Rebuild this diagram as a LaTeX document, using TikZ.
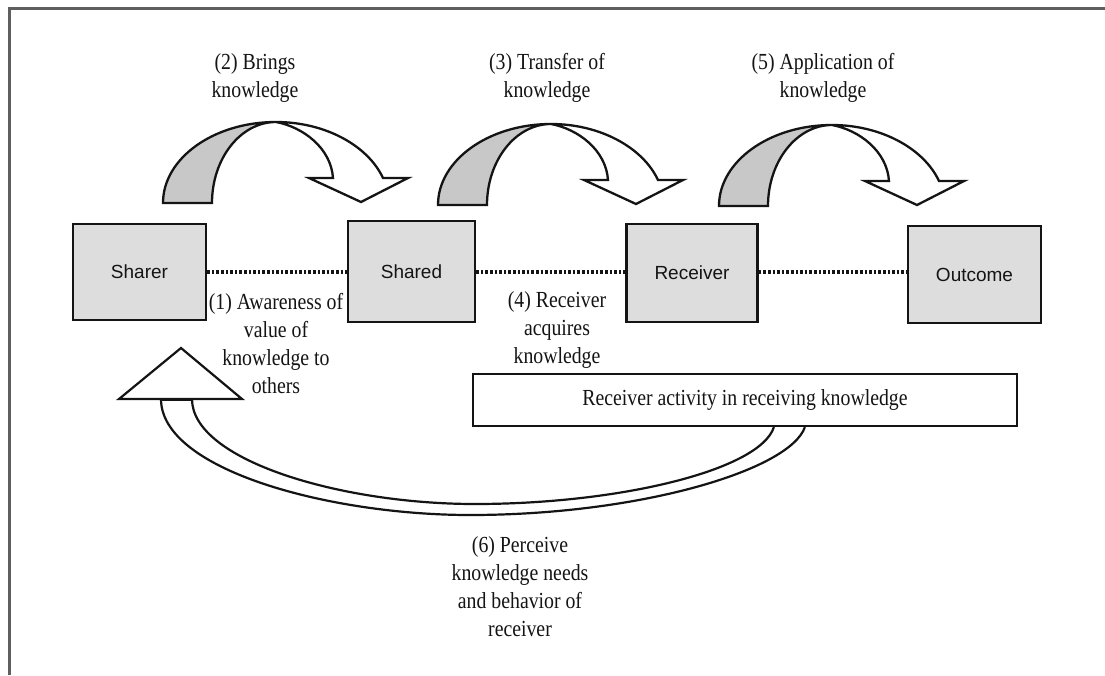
\documentclass[tikz,border=0pt]{standalone}
\usepackage{fontspec}
\usetikzlibrary{calc}
\newfontfamily\labelfont{Liberation Serif}[FakeStretch=0.86]
\newfontfamily\boxfont{Liberation Sans}
\definecolor{boxgray}{RGB}{221,221,221}
\definecolor{arrowgray}{RGB}{200,200,200}
\definecolor{framegray}{RGB}{95,95,95}
\definecolor{ink}{RGB}{20,20,20}
\tikzset{
  stage/.style={draw=ink, line width=2.4pt, fill=boxgray, inner sep=0pt,
    font=\boxfont\fontsize{19}{22}\selectfont, text=ink},
  lbl/.style={align=center, inner sep=0pt,
    font=\labelfont\fontsize{23}{28}\selectfont, text=ink},
  dotline/.style={draw=ink, line width=4pt, dash pattern=on 2.6pt off 2pt},
  band/.style={draw=ink, line width=2.2pt},
  % curved ribbon arrow: grey back part rising, white front part falling onto the head
  bendarrow/.pic={
    \fill[white] (0,0) .. controls (0,-44.7) and (50.6,-81) .. (113,-81)
      .. controls (161.5,-81) and (204.5,-58) .. (220,-25)
      -- (245,-25) -- (198,-1) -- (146,-25) -- (170,-25)
      .. controls (168,-55) and (140,-76) .. (113,-81)
      .. controls (77.7,-81) and (49,-44.7) .. (49,0) -- cycle;
    \fill[arrowgray] (0,0) .. controls (0,-44.7) and (50.6,-81) .. (113,-81)
      .. controls (77.7,-81) and (49,-44.7) .. (49,0) -- cycle;
    \draw[ink, line width=2.3pt, line join=miter] (0,0) .. controls (0,-44.7) and (50.6,-81) .. (113,-81)
      .. controls (161.5,-81) and (204.5,-58) .. (220,-25)
      -- (245,-25) -- (198,-1) -- (146,-25) -- (170,-25)
      .. controls (168,-55) and (140,-76) .. (113,-81)
      .. controls (77.7,-81) and (49,-44.7) .. (49,0) -- cycle;
  }
}
\begin{document}
\begin{tikzpicture}[x=1pt, y=-1pt]
\useasboundingbox (0,0) rectangle (1105,675);
\fill[white] (0,0) rectangle (1105,675);
% page frame
\draw[framegray, line width=3pt] (9.5,675) -- (9.5,8.5) -- (1105,8.5);

% stages
\node[stage, minimum width=133pt, minimum height=96pt]  (sharer)   at (139.5,272) {Sharer};
\node[stage, minimum width=127pt, minimum height=101pt] (shared)   at (411.5,271.5) {Shared};
\node[stage, minimum width=131pt, minimum height=98pt]  (receiver) at (692,273) {Receiver};
\node[stage, minimum width=133pt, minimum height=97pt]  (outcome)  at (974.5,274.5) {Outcome};

% dotted links between stages
\draw[dotline] (sharer.east) -- (shared.west |- sharer.east);
\draw[dotline] (shared.east |- sharer.east) -- (receiver.west |- sharer.east);
\draw[dotline] (receiver.east |- sharer.east) -- (outcome.west |- sharer.east);

% curved arrows between stages
\pic (bring) at (163,203) {bendarrow};
\pic (transfer) at (438,205) {bendarrow};
\pic (apply) at (719,206) {bendarrow};

\node[lbl] (l2) at (255,77.5) {(2) Brings\\knowledge};
\node[lbl] (l3) at (547,77.5) {(3) Transfer of\\knowledge};
\node[lbl] (l5) at (823,77.5) {(5) Application of\\knowledge};

\node[lbl] (l1) at (276,344) {(1) Awareness of\\value of\\knowledge to\\others};
\node[lbl] (l4) at (557,330) {(4) Receiver\\acquires\\knowledge};

% receiver activity bar
\node[draw=ink, line width=2.2pt, fill=white, minimum width=544pt, minimum height=52pt,
      inner sep=0pt, font=\labelfont\fontsize{23}{28}\selectfont, text=ink]
      (activity) at (745,400) {Receiver activity in receiving knowledge};

% feedback loop back to the sharer
\coordinate (loopin)  at ($(activity.south west)+(302,0)$);
\coordinate (loopout) at ($(activity.south west)+(333,0)$);
\coordinate (stemin)  at (192,399);
\coordinate (stemout) at (161,399);
\draw[band] (loopout) .. controls (790,470) and (640,515) .. (470,515)
            .. controls (330,515) and (161,470) .. (stemout);
\draw[band] (loopin) .. controls (760,470) and (620,504) .. (475,504)
            .. controls (340,504) and (192,460) .. (stemin);
\draw[ink, line width=2.2pt, fill=white] (119,399) coordinate (tl) -- (181,348) coordinate (apex)
      -- (242,399) coordinate (tr) -- cycle;
\draw[ink, line width=3pt] (stemout) -- (stemin);

\node[lbl] (l6) at (520,586.5) {(6) Perceive\\knowledge needs\\and behavior of\\receiver};
\end{tikzpicture}
\end{document}
